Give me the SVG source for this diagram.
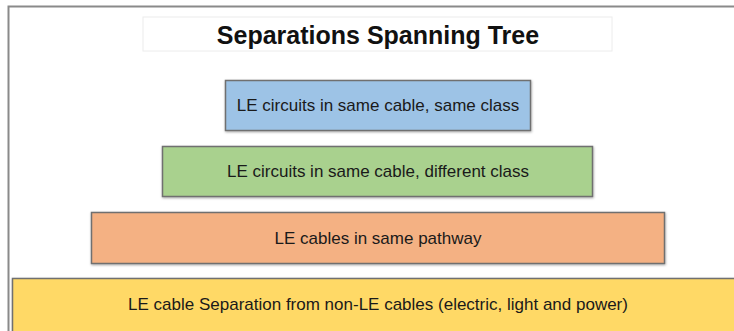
<svg xmlns="http://www.w3.org/2000/svg" width="734" height="331" viewBox="0 0 734 331">
<defs>
<style>
.box{stroke:#6f6f6f;stroke-width:1.5}
.lbl{font-family:"Liberation Sans",Arial,sans-serif;font-size:17px;fill:#1a1a1a;text-anchor:middle}
.title{font-family:"Liberation Sans",Arial,sans-serif;font-size:25px;font-weight:bold;fill:#111;text-anchor:middle}
</style>
<filter id="sh" x="-5%" y="-10%" width="110%" height="130%">
<feDropShadow dx="0.5" dy="1" stdDeviation="0.8" flood-color="#000" flood-opacity="0.35"/>
</filter>
</defs>
<rect x="0" y="0" width="734" height="331" fill="#ffffff"/>
<g id="frame">
<path d="M8.5 331 V6.5 H734" fill="none" stroke="#8a8a8a" stroke-width="2"/>
</g>
<g id="title">
<rect x="143" y="17" width="469" height="34" fill="#ffffff" stroke="#ececec" stroke-width="1"/>
<text class="title" x="378" y="44">Separations Spanning Tree</text>
</g>
<g id="connectors"></g>
<g id="n1">
<rect class="box" x="225.5" y="80.5" width="305" height="50" fill="#9dc3e6" filter="url(#sh)"/>
<text class="lbl" x="378" y="111">LE circuits in same cable, same class</text>
</g>
<g id="n2">
<rect class="box" x="162.5" y="146.5" width="430" height="50" fill="#a9d18e" filter="url(#sh)"/>
<text class="lbl" x="378" y="177">LE circuits in same cable, different class</text>
</g>
<g id="n3">
<rect class="box" x="91.5" y="212.5" width="573" height="51" fill="#f4b183" filter="url(#sh)"/>
<text class="lbl" x="378" y="244">LE cables in same pathway</text>
</g>
<g id="n4">
<rect class="box" x="12.5" y="278.5" width="730" height="60" fill="#ffd966" filter="url(#sh)"/>
<text class="lbl" x="378" y="310">LE cable Separation from non-LE cables (electric, light and power)</text>
</g>
</svg>
